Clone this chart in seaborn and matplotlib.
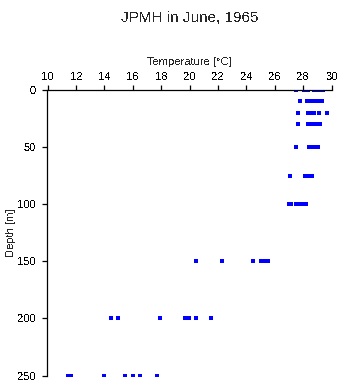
import matplotlib
matplotlib.use("Agg")
import matplotlib.pyplot as plt
import seaborn as sns
import pandas as pd

# ---- data ----
depths = [0, 10, 20, 30, 50, 75, 100, 150, 200, 250]
temp_0 = [27.49, 28.05, 28.15, 28.38, 28.8, 28.92, 29.1, 29.25, 29.4]
temp_10 = [27.77, 28.25, 28.4, 28.55, 28.7, 28.85, 29.1, 29.25, 29.35]
temp_20 = [27.67, 28.35, 28.5, 28.65, 28.8, 29.1, 29.67]
temp_30 = [27.62, 28.35, 28.5, 28.65, 28.8, 28.95, 29.1, 29.2]
temp_50 = [27.5, 28.4, 28.55, 28.7, 28.85, 29.0, 29.08]
temp_75 = [27.06, 28.1, 28.25, 28.4, 28.55, 28.65]
temp_100 = [27.0, 27.12, 27.5, 27.8, 27.95, 28.1, 28.22]
temp_150 = [20.47, 22.27, 24.5, 25.0, 25.28, 25.42, 25.55]
temp_200 = [14.46, 14.95, 17.89, 19.65, 19.8, 19.93, 20.49, 21.5]
temp_250 = [11.45, 11.62, 13.97, 15.47, 15.99, 16.5, 17.7]
temps = [temp_0, temp_10, temp_20, temp_30, temp_50, temp_75, temp_100,
         temp_150, temp_200, temp_250]

x_ticks = [10, 12, 14, 16, 18, 20, 22, 24, 26, 28, 30]
y_ticks = [0, 50, 100, 150, 200, 250]
title = "JPMH in June, 1965"
x_label = "Temperature [\u00b0C]"
y_label = "Depth [m]"

rows = [(t, d) for d, ts in zip(depths, temps) for t in ts]
df = pd.DataFrame(rows, columns=["Temperature", "Depth"])

sns.set_style("ticks")
plt.rcParams["font.family"] = ["Liberation Sans", "DejaVu Sans"]
plt.rcParams["text.antialiased"] = False

fig = plt.figure(figsize=(3.41, 3.84), dpi=100)
ax = fig.add_axes([47.5 / 341, 1 - 375.5 / 384, 284 / 341, 285.5 / 384])

sns.scatterplot(data=df, x="Temperature", y="Depth", ax=ax, marker="s",
                s=5.5, color="#0000ff", linewidth=0, legend=False)

ax.set_xlim(10, 30)
ax.set_ylim(250, 0)
ax.set_xticks(x_ticks)
ax.set_yticks(y_ticks)
ax.xaxis.tick_top()
ax.xaxis.set_label_position("top")
for side in ["right", "bottom"]:
    ax.spines[side].set_visible(False)
for side in ["top", "left"]:
    ax.spines[side].set_linewidth(0.9)
    ax.spines[side].set_color("black")
ax.tick_params(axis="both", direction="out", length=3.6, width=0.9,
               labelsize=8, color="black", labelcolor="black")
ax.tick_params(axis="x", pad=2.5)
ax.tick_params(axis="y", pad=5)
ax.set_xlabel(x_label, fontsize=8, labelpad=5)
ax.set_ylabel(y_label, fontsize=8, labelpad=1)
fig.text(0.5 * (47.5 + 331.5) / 341, 1 - 18 / 384, title, ha="center",
         va="center", fontsize=11)

fig.savefig("out.png", dpi=100)
